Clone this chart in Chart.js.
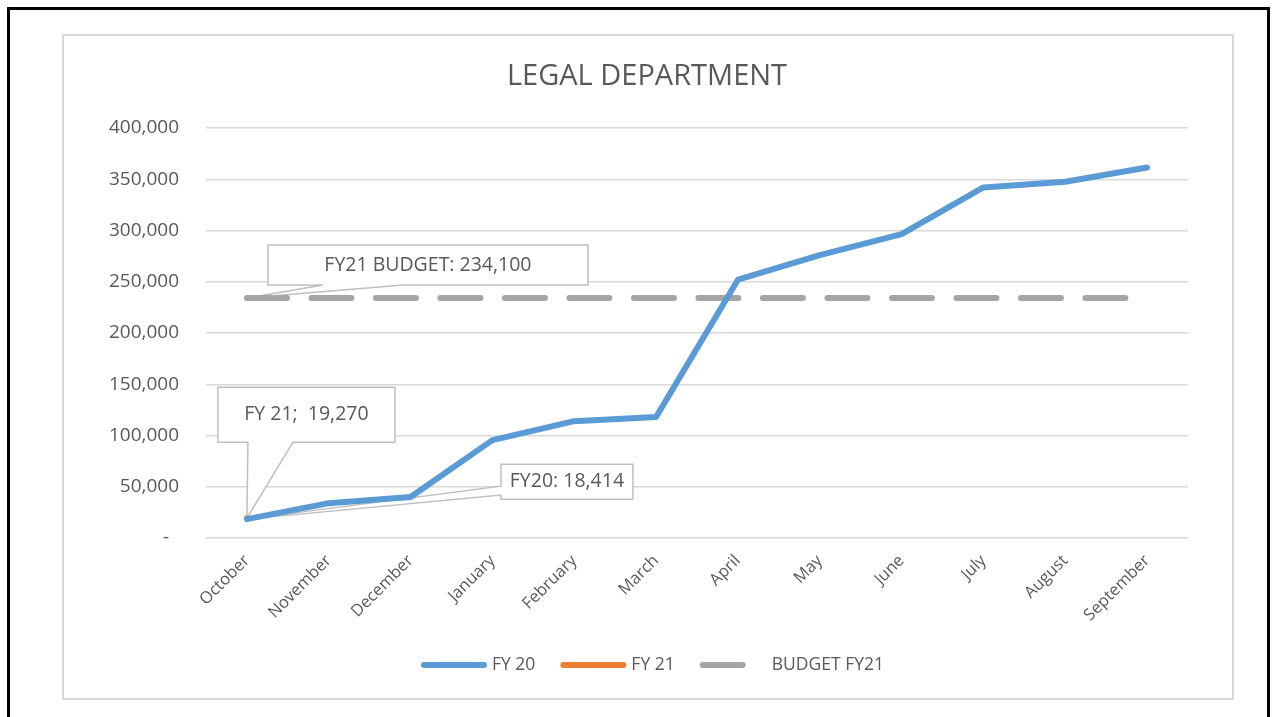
<!DOCTYPE html>
<html>
<head>
<meta charset="utf-8">
<title>Legal Department</title>
<script src="https://cdn.jsdelivr.net/npm/chart.js@4.4.1/dist/chart.umd.min.js"></script>
<style>
  html, body { margin: 0; padding: 0; background: #fff; }
  #wrap { width: 1276px; height: 717px; }
</style>
</head>
<body>
<div id="wrap"><canvas id="legalChart" width="1276" height="717"></canvas></div>
<script>
'use strict'
var title = 'LEGAL DEPARTMENT';
var months = ['October', 'November', 'December', 'January', 'February', 'March', 'April', 'May', 'June', 'July', 'August', 'September'];
var fy20 = [18414, 34000, 40000, 95500, 114000, 118000, 252000, 276000, 296500, 342000, 347500, 361500];
var fy21 = [19270, null, null, null, null, null, null, null, null, null, null, null];
var budgetFy21 = [234100, 234100, 234100, 234100, 234100, 234100, 234100, 234100, 234100, 234100, 234100, 234100];
var yTicks = [0, 50000, 100000, 150000, 200000, 250000, 300000, 350000, 400000];

var FONT = "'Open Sans', 'Noto Sans', sans-serif";
var TEXT = '#595959';

/*----callout labels (Excel style), box placed relative to its point----*/
var callouts = [
	{ ds: 1, i: 0, text: 'FY 21;  19,270', left: -29, top: -131, w: 177, h: 55, side: 'bottom', a: 30, b: 75 },
	{ ds: 0, i: 0, text: 'FY20: 18,414', left: 254, top: -55, w: 132, h: 35, side: 'left', a: 22, b: 31 },
	{ ds: 2, i: 0, text: 'FY21 BUDGET: 234,100', left: 21, top: -53, w: 320, h: 40, side: 'bottom', a: 55, b: 135 }
];

var calloutPlugin = {
	id: 'callouts',
	beforeDatasetsDraw: function(chart) {
		var ctx = chart.ctx;
		ctx.save();
		callouts.forEach(function(c) {
			var pt = chart.getDatasetMeta(c.ds).data[c.i];
			var x = pt.x + c.left, y = pt.y + c.top;
			ctx.beginPath();
			ctx.moveTo(x, y);
			ctx.lineTo(x + c.w, y);
			ctx.lineTo(x + c.w, y + c.h);
			if (c.side === 'bottom') {
				ctx.lineTo(x + c.b, y + c.h);
				ctx.lineTo(pt.x, pt.y);
				ctx.lineTo(x + c.a, y + c.h);
			}
			ctx.lineTo(x, y + c.h);
			if (c.side === 'left') {
				ctx.lineTo(x, y + c.b);
				ctx.lineTo(pt.x, pt.y);
				ctx.lineTo(x, y + c.a);
			}
			ctx.closePath();
			ctx.fillStyle = '#fff';
			ctx.fill();
			ctx.strokeStyle = '#bfbfbf';
			ctx.lineWidth = 1.5;
			ctx.stroke();
			ctx.fillStyle = TEXT;
			ctx.font = '19.5px ' + FONT;
			ctx.textAlign = 'center';
			ctx.textBaseline = 'middle';
			ctx.fillText(c.text, x + c.w / 2, y + c.h / 2);
		});
		ctx.restore();
	}
};

/*----frame, title + custom legend----*/
var framePlugin = {
	id: 'frame',
	beforeDraw: function(chart) {
		var ctx = chart.ctx;
		ctx.save();
		ctx.fillStyle = '#fff';
		ctx.fillRect(0, 0, chart.width, chart.height);
		ctx.strokeStyle = '#000';
		ctx.lineWidth = 3;
		ctx.strokeRect(8.5, 8.5, 1260, 730);
		ctx.strokeStyle = '#d9d9d9';
		ctx.lineWidth = 2;
		ctx.strokeRect(63, 35, 1170, 664);
		ctx.fillStyle = TEXT;
		ctx.font = '29px ' + FONT;
		ctx.textAlign = 'center';
		ctx.textBaseline = 'middle';
		ctx.fillText(title, 647, 77);
		ctx.restore();
	},
	afterDraw: function(chart) {
		var ctx = chart.ctx;
		var x = 421, y = 665;
		ctx.save();
		ctx.font = '17.5px ' + FONT;
		ctx.textBaseline = 'middle';
		ctx.textAlign = 'left';
		chart.data.datasets.forEach(function(d) {
			ctx.beginPath();
			ctx.setLineDash(d.borderDash || []);
			ctx.strokeStyle = d.borderColor;
			ctx.lineWidth = d.borderWidth;
			ctx.lineCap = 'round';
			ctx.moveTo(x + 3, y);
			ctx.lineTo(x + 63, y);
			ctx.stroke();
			ctx.setLineDash([]);
			ctx.fillStyle = TEXT;
			var tx = x + (d.borderDash ? 72 : 71);
			ctx.fillText(d.label, tx, y);
			x = tx + ctx.measureText(d.label).width + 25;
		});
		ctx.restore();
	}
};

var ctx = document.getElementById('legalChart');
var myChart = new Chart(ctx, {
	type: 'line',
	data: {
		labels: months,
		datasets: [{
			label: 'FY 20',
			data: fy20,
			borderColor: '#5b9bd5',
			backgroundColor: '#5b9bd5',
			borderWidth: 6,
			borderCapStyle: 'round',
			borderJoinStyle: 'round',
			pointRadius: 0,
			tension: 0
		}, {
			label: 'FY 21',
			data: fy21,
			borderColor: '#ed7d31',
			backgroundColor: '#ed7d31',
			borderWidth: 6,
			borderCapStyle: 'round',
			pointRadius: 0
		}, {
			label: 'BUDGET FY21',
			data: budgetFy21,
			borderColor: '#a5a5a5',
			backgroundColor: '#a5a5a5',
			borderWidth: 6,
			borderDash: [40, 24.5],
			borderCapStyle: 'round',
			pointRadius: 0
		}]
	},
	options: {
		responsive: false,
		animation: false,
		events: [],
		layout: { padding: { left: 0, right: 88, top: 128, bottom: 0 } },
		plugins: {
			legend: { display: false },
			tooltip: { enabled: false },
			title: { display: false }
		},
		scales: {
			x: {
				offset: true,
				grid: { display: false },
				border: { display: false },
				ticks: {
					color: TEXT,
					font: { family: FONT, size: 16.5 },
					minRotation: 45,
					maxRotation: 45,
					autoSkip: false,
					padding: 5
				},
				afterFit: function(scale) {
					scale.height = 179;
					scale.paddingLeft = 0;
					scale.paddingRight = 0;
				}
			},
			y: {
				min: 0,
				max: 400000,
				afterBuildTicks: function(scale) {
					scale.ticks = yTicks.map(function(v) { return { value: v }; });
				},
				grid: { color: '#d9d9d9', lineWidth: 1.5, drawTicks: false },
				border: { display: false },
				ticks: {
					color: TEXT,
					font: { family: FONT, size: 19 },
					padding: 27,
					callback: function(v) { return v === 0 ? '-  ' : v.toLocaleString('en-US'); }
				},
				afterFit: function(scale) {
					scale.width = 206;
					scale.paddingTop = 0;
					scale.paddingBottom = 0;
				}
			}
		}
	},
	plugins: [framePlugin, calloutPlugin]
});
</script>
</body>
</html>
